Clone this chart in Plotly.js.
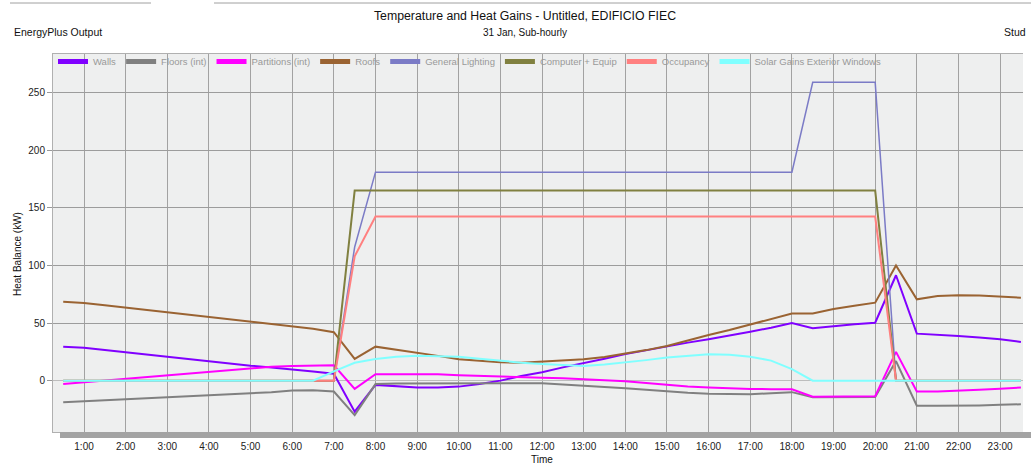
<!DOCTYPE html>
<html>
<head>
<meta charset="utf-8">
<script src="https://cdn.plot.ly/plotly-3.0.1.min.js"></script>
<style>html,body{margin:0;padding:0;background:#fff;}#chart{width:1031px;height:466px;}</style>
</head>
<body>
<div id="chart"></div>
<script>
// time of day in hours (sub-hourly, 30 min steps)
const hours = [0.5,1,1.5,2,2.5,3,3.5,4,4.5,5,5.5,6,6.5,7,7.5,8,8.5,9,9.5,10,10.5,11,11.5,12,12.5,13,13.5,14,14.5,15,15.5,16,16.5,17,17.5,18,18.5,19,19.5,20,20.5,21,21.5,22,22.5,23,23.5];
const tickVals = [1,2,3,4,5,6,7,8,9,10,11,12,13,14,15,16,17,18,19,20,21,22,23];
const tickText = ['1:00','2:00','3:00','4:00','5:00','6:00','7:00','8:00','9:00','10:00','11:00','12:00','13:00','14:00','15:00','16:00','17:00','18:00','19:00','20:00','21:00','22:00','23:00'];

const walls = [29.5,28.5,26.5,24.5,22.5,20.5,19,17,15,13,11.5,10,8,6,-27,-3.7,-5,-6,-6,-5.2,-3,0,4,7.3,11.5,15,19,23,26.5,29.5,33,36,39,42.5,46,50,45.5,47.5,49,50.3,91.5,40.8,40,38.8,37.5,35.9,33.6];
const floorsInt = [-18.8,-18,-17.3,-16.3,-15.5,-14.5,-13.8,-13,-12,-11,-10,-8.5,-8.3,-9.5,-30,-3,-2.5,-2.5,-2.5,-2.5,-2.2,-2,-2,-2.3,-3.3,-4.3,-5.5,-6.6,-8,-9.5,-10.5,-11.3,-11.7,-11.8,-11,-10,-14.4,-14.4,-14.4,-14.2,17,-21.7,-21.7,-21.7,-21.5,-21,-20.5];
const partitionsInt = [-3,-1.5,0.5,2,3.5,5,6.5,8,9.5,10.8,12,12.8,13.3,13.3,-7.2,5.5,5.5,5.5,5.5,4.7,4.3,4,3.3,2.6,2,1.2,0.4,-0.5,-2,-3.7,-5,-6,-6.8,-7.2,-7.4,-7.5,-13.9,-13.9,-13.9,-13.5,25,-9.5,-9.5,-9,-8,-7,-6];
const roofs = [68.5,67.5,65.5,63.5,61.5,59.5,57.5,55,53,51,49,47,45,42,18.8,29.5,27,24.3,21.5,18.6,17.1,16,15.5,16.5,17,18.5,20.5,23.2,26.5,30.1,35,39.7,44,48.9,53.5,58.2,58.2,62.2,65.1,67.7,100,70.6,73.5,74.1,74,73.2,72];
const generalLighting = [0,0,0,0,0,0,0,0,0,0,0,0,0,0,116,181,181,181,181,181,181,181,181,181,181,181,181,181,181,181,181,181,181,181,181,181,259,259,259,259,0,0,0,0,0,0,0];
const computerEquip = [0,0,0,0,0,0,0,0,0,0,0,0,0,0,165,165,165,165,165,165,165,165,165,165,165,165,165,165,165,165,165,165,165,165,165,165,165,165,165,165,0,0,0,0,0,0,0];
const occupancy = [0,0,0,0,0,0,0,0,0,0,0,0,0,0,108,142.5,142.5,142.5,142.5,142.5,142.5,142.5,142.5,142.5,142.5,142.5,142.5,142.5,142.5,142.5,142.5,142.5,142.5,142.5,142.5,142.5,142.5,142.5,142.5,142.5,0,0,0,0,0,0,0];
const solarWindows = [0,0,0,0,0,0,0,0,0,0,0,0,0,8,15.5,18.8,20.8,21.7,21.5,20.8,19,17.2,15.6,14.5,13.5,12.8,14,15.6,17.8,20,21.7,22.9,22.5,20.8,17.4,10,0,0,0,0,0,0,0,0,0,0,0];

const seriesNames = ['Walls','Floors (int)','Partitions (int)','Roofs','General Lighting','Computer + Equip','Occupancy','Solar Gains Exterior Windows'];
const seriesData = [walls, floorsInt, partitionsInt, roofs, generalLighting, computerEquip, occupancy, solarWindows];
const seriesColors = ['#8000ff','#808080','#ff00ff','#9a6332','#7b7bc6','#808040','#ff8080','#80ffff'];
const seriesWidths = [2,2,2,2,1.5,2,2,2];

const FONT = 'Arial, "Liberation Sans", sans-serif';
const traces = [];
seriesNames.forEach((n,i)=>{
  traces.push({x:hours, y:seriesData[i], type:'scatter', mode:'lines', name:n, showlegend:false,
    line:{color:seriesColors[i], width:seriesWidths[i]}, hoverinfo:'skip'});
});
// legend swatches (thick samples)
seriesNames.forEach((n,i)=>{
  traces.push({x:[null], y:[null], type:'scatter', mode:'lines', name:n, showlegend:true,
    line:{color:seriesColors[i], width:5}});
});

const W = 1031, H = 466;
const L = 53, R = 8, T = 54, B = 34;
const pw = W-L-R, ph = H-T-B;

const layout = {
  width: W, height: H,
  margin: {l:L, r:R, t:T, b:B, pad:0},
  paper_bgcolor: '#ffffff',
  plot_bgcolor: '#eeefef',
  font: {family: FONT, size: 10, color: '#222'},
  title: {text: 'Temperature and Heat Gains - Untitled, EDIFICIO FIEC', x: 525/W, xanchor: 'center', xref: 'container',
          y: 1-16/H, yanchor: 'middle', yref: 'container', font: {family: FONT, size: 12.3, color: '#111'}},
  showlegend: true,
  legend: {orientation: 'h', x: 0.0, xanchor: 'left', y: 1+7/ph, yanchor: 'top', bgcolor: 'rgba(0,0,0,0)',
           font: {family: FONT, size: 9.5, color: '#999'}, itemwidth: 30, traceorder: 'normal', itemclick: false},
  xaxis: {range: [0.255, 23.55], tickvals: tickVals, ticktext: tickText, showgrid: true, gridcolor: '#a2a2a2', gridwidth: 1,
          zeroline: false, ticks: 'outside', ticklen: 5, tickcolor: 'rgba(0,0,0,0)', tickfont: {family: FONT, size: 10, color: '#222'},
          showline: true, linecolor: '#b0b0b0', linewidth: 1, mirror: true, fixedrange: true},
  yaxis: {range: [-44.6, 283.6], tickvals: [0,50,100,150,200,250], showgrid: true, gridcolor: '#9c9c9c', gridwidth: 1,
          zeroline: true, zerolinecolor: '#bdbdbd', zerolinewidth: 1.5, ticks: 'outside', ticklen: 5, tickcolor: '#999',
          tickfont: {family: FONT, size: 10, color: '#222'}, showline: true, linecolor: '#b0b0b0', linewidth: 1, fixedrange: true},
  shapes: [
    {type:'rect', xref:'paper', yref:'paper', x0:(60-L)/pw, x1:(W-L)/pw, y0:-(438-432)/ph, y1:0, fillcolor:'#a3a3a3', line:{width:0}, layer:'above'},
    {type:'line', xref:'paper', yref:'paper', x0:(10-L)/pw, x1:(151-L)/pw, y0:1+(T-3)/ph, y1:1+(T-3)/ph, line:{color:'#a0a0a0', width:1}},
    {type:'line', xref:'paper', yref:'paper', x0:(214-L)/pw, x1:(W-L)/pw, y0:1+(T-3)/ph, y1:1+(T-3)/ph, line:{color:'#a0a0a0', width:1}}
  ],
  annotations: [
    {text:'31 Jan, Sub-hourly', xref:'paper', yref:'paper', x:(525-L)/pw, y:1+(T-32)/ph, xanchor:'center', yanchor:'middle', showarrow:false, font:{family:FONT, size:10, color:'#111'}},
    {text:'EnergyPlus Output', xref:'paper', yref:'paper', x:(12-L)/pw, y:1+(T-32)/ph, xanchor:'left', yanchor:'middle', showarrow:false, font:{family:FONT, size:10.5, color:'#111'}},
    {text:'Stud', xref:'paper', yref:'paper', x:(1002-L)/pw, y:1+(T-32)/ph, xanchor:'left', yanchor:'middle', showarrow:false, font:{family:FONT, size:10.5, color:'#111'}},
    {text:'Heat Balance (kW)', xref:'paper', yref:'paper', x:(17-L)/pw, y:(H-B-254)/ph, xanchor:'center', yanchor:'middle', textangle:-90, showarrow:false, font:{family:FONT, size:10, color:'#111'}},
    {text:'Time', xref:'paper', yref:'paper', x:(542-L)/pw, y:-(460-432)/ph, xanchor:'center', yanchor:'middle', showarrow:false, font:{family:FONT, size:10, color:'#111'}}
  ]
};

Plotly.newPlot('chart', traces, layout, {displayModeBar:false, staticPlot:true});
</script>
</body>
</html>
